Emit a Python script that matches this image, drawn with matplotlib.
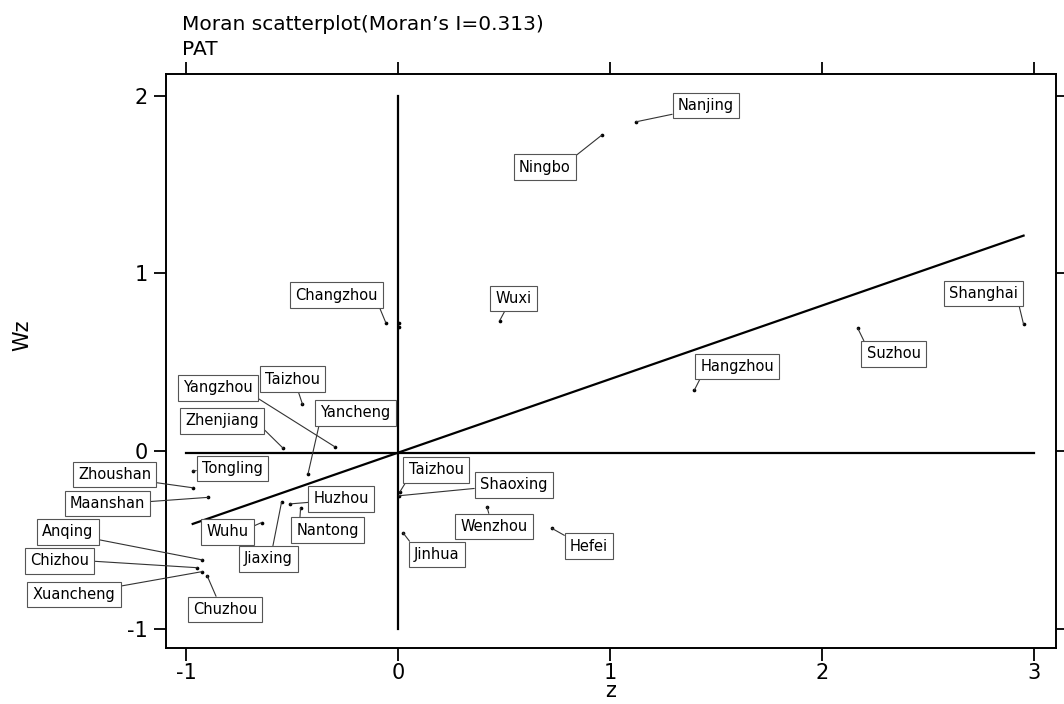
import matplotlib
matplotlib.use("Agg")
import matplotlib.pyplot as plt
import numpy as np

# ---------------- data ----------------
cities = ["Shanghai", "Suzhou", "Nanjing", "Ningbo", "Wuxi", "Changzhou", "Hangzhou",
          "Taizhou", "Yangzhou", "Zhenjiang", "Yancheng", "Tongling", "Zhoushan",
          "Maanshan", "Huzhou", "Jiaxing", "Nantong", "Wuhu", "Anqing", "Chizhou",
          "Xuancheng", "Chuzhou", "Taizhou", "Shaoxing", "Wenzhou", "Hefei", "Jinhua"]
z = [2.950, 2.168, 1.122, 0.960, 0.478, -0.059, 1.397,
     -0.452, -0.300, -0.543, -0.426, -0.970, -0.970,
     -0.897, -0.512, -0.551, -0.461, -0.645, -0.925, -0.949,
     -0.925, -0.902, 0.007, 0.003, 0.418, 0.724, 0.022]
wz = [0.713, 0.690, 1.853, 1.778, 0.733, 0.722, 0.343,
      0.263, 0.024, 0.015, -0.129, -0.113, -0.207,
      -0.261, -0.298, -0.289, -0.321, -0.403, -0.613, -0.657,
      -0.679, -0.702, -0.231, -0.252, -0.313, -0.435, -0.460]
extra_z = [0.002, 0.002]
extra_wz = [0.700, 0.722]
fit_slope = 0.414
fit_intercept = -0.009
mean_wz = -0.011
x_ticks = [-1, 0, 1, 2, 3]
y_ticks = [-1, 0, 1, 2]
title_line1 = "Moran scatterplot(Moran\u2019s I=0.313)"
title_line2 = "PAT"
x_label = "z"
y_label = "Wz"

# ---------------- layout (label box centres in data units, leader anchor) ----------------
label_pos = [(2.761, 0.886), (2.337, 0.546), (1.451, 1.944), (0.692, 1.598), (0.544, 0.858),
             (-0.293, 0.878), (1.599, 0.476), (-0.498, 0.405), (-0.849, 0.355), (-0.830, 0.169),
             (-0.203, 0.214), (-0.783, -0.098), (-1.339, -0.132), (-1.372, -0.295),
             (-0.269, -0.270), (-0.613, -0.608), (-0.333, -0.445), (-0.806, -0.456),
             (-1.558, -0.456), (-1.598, -0.619), (-1.530, -0.808), (-0.818, -0.892),
             (0.179, -0.107), (0.544, -0.191), (0.450, -0.425), (0.900, -0.535), (0.181, -0.582)]
label_rel = [(1, 0), (0, 1), (0, 0), (1, 1), (0.33, 0), (1, 0), (0.03, 0), (0.57, 0), (1, 0),
             (1, 0.25), (0, 0), (0, 0.4), (1, 0), (1, 0.6), (0, 0.3), (0.57, 1), (0.05, 1),
             (1, 0.75), (1, 0.05), (1, 0.5), (1, 1), (0.4, 1), (0, 0), (0, 0.3), (0.45, 1),
             (0, 1), (0, 1)]

fig = plt.figure(figsize=(10.64, 7.04), dpi=100)
ax = fig.add_axes([166 / 1064, 1 - 648 / 704, (1056 - 166) / 1064, (648 - 74) / 704])

ax.set_xlim(-1.096, 3.103)
ax.set_ylim(-1.109, 2.122)

# reference lines
ax.plot([0, 0], [y_ticks[0], y_ticks[-1]], color="black", lw=1.6, zorder=2)
ax.plot([x_ticks[0], x_ticks[-1]], [mean_wz, mean_wz], color="black", lw=1.6, zorder=2)

# fitted line over data range
zx = np.array([min(z), max(z)])
ax.plot(zx, fit_intercept + fit_slope * zx, color="black", lw=1.6, zorder=2)

# points
ax.scatter(z, wz, s=7, color="black", zorder=3, linewidths=0)
ax.scatter(extra_z, extra_wz, s=7, color="black", zorder=3, linewidths=0)

# labels
for name, xi, yi, pos, rel in zip(cities, z, wz, label_pos, label_rel):
    ax.annotate(name, xy=(xi, yi), xytext=pos, textcoords="data",
                ha="center", va="center", fontsize=10.5, color="black",
                bbox=dict(boxstyle="square,pad=0.36", fc="white", ec="#555555", lw=0.8),
                arrowprops=dict(arrowstyle="-", color="#333333", lw=0.8,
                                shrinkA=0, shrinkB=0, relpos=rel),
                annotation_clip=False, zorder=4)

ax.set_xticks(x_ticks)
ax.set_yticks(y_ticks)
ax.set_xticklabels([str(t) for t in x_ticks])
ax.set_yticklabels([str(t) for t in y_ticks])
ax.tick_params(direction="out", length=9, width=1.3, top=True, right=True,
               labeltop=False, labelright=False, labelsize=15, colors="black")
ax.tick_params(axis="x", pad=2)
ax.tick_params(axis="y", pad=4)
for sp in ax.spines.values():
    sp.set_linewidth(1.4)
    sp.set_color("black")

ax.set_xlabel(x_label, fontsize=15)
ax.set_ylabel(y_label, fontsize=15)
ax.xaxis.set_label_coords(0.5, -0.058)
ax.yaxis.set_label_coords(-0.15, 0.545)

fig.text(182 / 1064, 1 - 30 / 704, title_line1, ha="left", va="baseline", fontsize=14.5)
fig.text(182 / 1064, 1 - 55 / 704, title_line2, ha="left", va="baseline", fontsize=14.5)

fig.savefig("out.png", dpi=100)
